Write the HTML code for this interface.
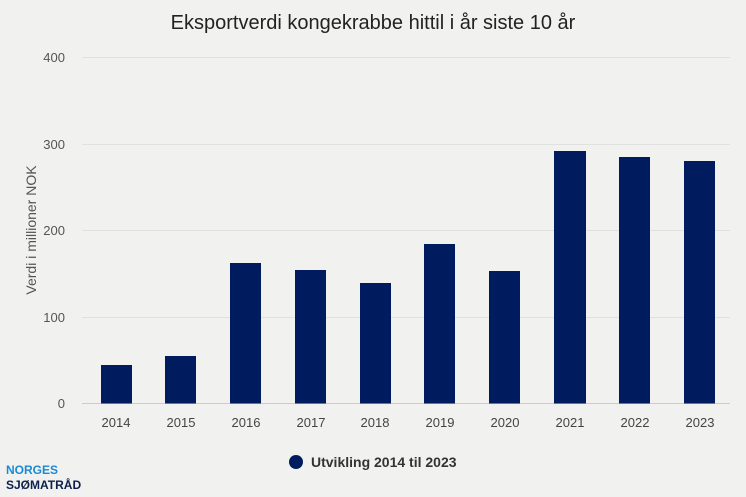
<!DOCTYPE html>
<html><head><meta charset="utf-8"><style>
body{margin:0;background:#f1f2f0;}
svg{display:block;font-family:"Liberation Sans",sans-serif;}
</style></head><body>
<svg width="746" height="497" viewBox="0 0 746 497">
<rect width="746" height="497" fill="#f1f2f0"/>
<text x="373" y="29" font-size="20" text-anchor="middle" fill="#222">Eksportverdi kongekrabbe hittil i år siste 10 år</text>
<g stroke="#e0e0e0" stroke-width="1">
<line x1="82" x2="730" y1="57.5" y2="57.5"/>
<line x1="82" x2="730" y1="144.5" y2="144.5"/>
<line x1="82" x2="730" y1="230.5" y2="230.5"/>
<line x1="82" x2="730" y1="317.5" y2="317.5"/>
</g>
<line x1="82" x2="730" y1="403.5" y2="403.5" stroke="#ccc"/>
<g font-size="13" fill="#555" text-anchor="end">
<text x="65" y="62">400</text><text x="65" y="149">300</text><text x="65" y="235">200</text><text x="65" y="322">100</text><text x="65" y="408">0</text>
</g>
<text transform="translate(36,230) rotate(-90)" font-size="14" fill="#555" text-anchor="middle">Verdi i millioner NOK</text>
<g fill="#001c5e">
<rect x="101" y="365" width="31" height="38.5"/>
<rect x="165" y="356" width="31" height="47.5"/>
<rect x="230" y="263" width="31" height="140.5"/>
<rect x="295" y="270" width="31" height="133.5"/>
<rect x="360" y="283" width="31" height="120.5"/>
<rect x="424" y="244" width="31" height="159.5"/>
<rect x="489" y="271" width="31" height="132.5"/>
<rect x="554" y="151" width="32" height="252.5"/>
<rect x="619" y="157" width="31" height="246.5"/>
<rect x="684" y="161" width="31" height="242.5"/>
</g>
<g font-size="13" fill="#444" text-anchor="middle">
<text x="116" y="427">2014</text><text x="181" y="427">2015</text><text x="246" y="427">2016</text><text x="311" y="427">2017</text><text x="375" y="427">2018</text><text x="440" y="427">2019</text><text x="505" y="427">2020</text><text x="570" y="427">2021</text><text x="635" y="427">2022</text><text x="700" y="427">2023</text>
</g>
<circle cx="296" cy="462" r="7" fill="#001c5e"/>
<text x="311" y="467" font-size="14" font-weight="bold" fill="#333">Utvikling 2014 til 2023</text>
<text x="6" y="474" font-size="12" font-weight="bold" fill="#1a8ad4">NORGES</text>
<text x="6" y="489" font-size="12" font-weight="bold" fill="#0d1f4a">SJØMATRÅD</text>
</svg>
</body></html>
